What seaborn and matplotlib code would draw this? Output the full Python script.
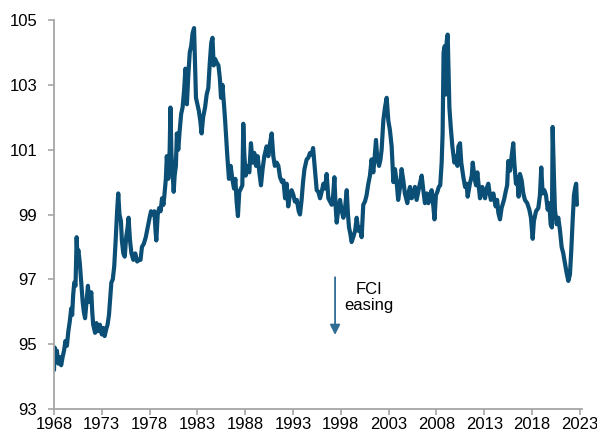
import matplotlib
matplotlib.use("Agg")
import matplotlib.pyplot as plt
import numpy as np
import pandas as pd
import seaborn as sns

# ===== data (year, FCI level) =====
years = [
    1968.00, 1968.06, 1968.15, 1968.30, 1968.45, 1968.60, 1968.75, 1968.90,
    1969.05, 1969.20, 1969.35, 1969.50, 1969.65, 1969.80, 1969.90,
    1970.00, 1970.12, 1970.25, 1970.37, 1970.45, 1970.55, 1970.70, 1970.85,
    1971.00, 1971.12, 1971.25, 1971.40, 1971.55, 1971.65, 1971.75, 1971.90,
    1972.00, 1972.10, 1972.30, 1972.45, 1972.60, 1972.80,
    1973.00, 1973.15, 1973.30, 1973.45, 1973.60, 1973.75, 1973.85,
    1974.00, 1974.15, 1974.30, 1974.45, 1974.60, 1974.72, 1974.85,
    1975.00, 1975.10, 1975.25, 1975.40, 1975.55, 1975.70, 1975.80, 1975.95,
    1976.10, 1976.30, 1976.50, 1976.70, 1976.90,
    1977.05, 1977.20, 1977.40, 1977.60, 1977.80,
    1978.00, 1978.15, 1978.35, 1978.50, 1978.62, 1978.70, 1978.85,
    1979.00, 1979.15, 1979.30, 1979.45, 1979.55, 1979.70, 1979.80, 1979.95,
    1980.10, 1980.18, 1980.28, 1980.40, 1980.52, 1980.62, 1980.75, 1980.85,
    1981.00, 1981.15, 1981.30, 1981.45, 1981.60, 1981.75, 1981.90,
    1982.05, 1982.20, 1982.35, 1982.50, 1982.65, 1982.75, 1982.85,
    1983.00, 1983.15, 1983.30, 1983.44, 1983.60, 1983.80, 1983.97,
    1984.14, 1984.30, 1984.45, 1984.58, 1984.70, 1984.85,
    1985.00, 1985.20, 1985.35, 1985.47, 1985.62, 1985.78, 1985.90,
    1986.00, 1986.13, 1986.30, 1986.48, 1986.65, 1986.83, 1986.97,
    1987.10, 1987.24, 1987.38, 1987.55, 1987.70, 1987.80, 1987.90,
    1988.05, 1988.22, 1988.43, 1988.60, 1988.78, 1988.95,
    1989.13, 1989.30, 1989.48, 1989.65, 1989.82,
    1990.00, 1990.24, 1990.42, 1990.60, 1990.77, 1990.94,
    1991.10, 1991.30, 1991.47, 1991.64, 1991.85,
    1992.00, 1992.17, 1992.34, 1992.50, 1992.70, 1992.86,
    1993.04, 1993.20, 1993.40, 1993.60, 1993.73, 1993.90,
    1994.05, 1994.20, 1994.43, 1994.60, 1994.78, 1994.95,
    1995.10, 1995.20, 1995.30, 1995.48, 1995.65, 1995.83,
    1996.00, 1996.18, 1996.35, 1996.52, 1996.70, 1996.88,
    1997.05, 1997.20, 1997.33, 1997.45, 1997.57, 1997.75, 1997.92,
    1998.10, 1998.27, 1998.45, 1998.62, 1998.75, 1998.86,
    1999.00, 1999.13, 1999.30, 1999.50, 1999.66, 1999.83,
    2000.00, 2000.18, 2000.35, 2000.53, 2000.70, 2000.88,
    2001.05, 2001.22, 2001.40, 2001.55, 2001.68, 2001.80,
    2002.00, 2002.15, 2002.27, 2002.45, 2002.62, 2002.80, 2002.97,
    2003.14, 2003.32, 2003.50, 2003.67, 2003.84,
    2004.00, 2004.20, 2004.36, 2004.54, 2004.70, 2004.96,
    2005.10, 2005.24, 2005.40, 2005.52, 2005.76, 2005.93,
    2006.20, 2006.46, 2006.63, 2006.80,
    2007.00, 2007.16, 2007.35, 2007.50, 2007.68, 2007.80, 2007.95,
    2008.10, 2008.25, 2008.40, 2008.55, 2008.65, 2008.75, 2008.88, 2008.97,
    2009.08, 2009.18, 2009.27, 2009.36, 2009.50, 2009.67, 2009.88,
    2010.05, 2010.20, 2010.30, 2010.47, 2010.60, 2010.82,
    2011.00, 2011.15, 2011.27, 2011.50, 2011.70, 2011.80,
    2012.00, 2012.15, 2012.28, 2012.45, 2012.56, 2012.80,
    2013.00, 2013.09, 2013.25, 2013.43, 2013.60, 2013.70, 2013.96,
    2014.10, 2014.20, 2014.35, 2014.48, 2014.65, 2014.82,
    2015.07, 2015.28, 2015.40, 2015.52, 2015.70, 2015.87,
    2016.04, 2016.15, 2016.32, 2016.46, 2016.60, 2016.74, 2016.92,
    2017.09, 2017.26, 2017.50, 2017.72, 2017.89,
    2018.07, 2018.20, 2018.42, 2018.66, 2018.83, 2018.97,
    2019.11, 2019.29, 2019.46, 2019.64, 2019.81, 2019.95,
    2020.08, 2020.16, 2020.30, 2020.40, 2020.58, 2020.75, 2020.93,
    2021.10, 2021.27, 2021.45, 2021.62, 2021.80, 2021.97,
    2022.11, 2022.25, 2022.39, 2022.53, 2022.62, 2022.70,
]

fci = [
    94.2, 94.9, 94.5, 94.8, 94.4, 94.6, 94.35, 94.6,
    94.8, 95.1, 94.95, 95.4, 95.7, 96.1, 95.9,
    96.5, 96.9, 96.8, 98.3, 97.7, 97.9, 97.5, 96.9,
    96.3, 96.0, 95.8, 96.3, 96.8, 96.4, 96.3, 96.6,
    96.0, 95.6, 95.35, 95.65, 95.4, 95.6,
    95.3, 95.5, 95.25, 95.45, 95.6, 95.9, 96.3,
    96.9, 97.0, 97.4, 98.2, 99.1, 99.65, 99.0,
    98.8, 98.2, 97.8, 97.7, 98.3, 98.6, 98.9, 98.2,
    97.8, 97.6, 97.8, 97.55, 97.6,
    97.6, 98.0, 98.1, 98.3, 98.6,
    98.9, 99.1, 99.0, 99.1, 98.5, 98.2, 99.0,
    99.2, 99.1, 99.5, 99.3, 99.6, 100.1, 100.8, 100.1,
    101.0, 102.3, 100.9, 100.3, 99.7, 100.2, 100.5, 101.5,
    101.0, 101.6, 102.1, 102.3, 102.8, 103.5, 102.4,
    103.3, 104.0, 104.2, 104.6, 104.75, 103.7, 102.6,
    102.4, 102.2, 101.9, 101.5, 102.0, 102.3, 102.7,
    102.9, 103.7, 104.3, 104.45, 103.6, 103.8,
    103.7, 103.6, 103.2, 102.6, 103.0, 102.4, 101.9,
    101.4, 100.8, 100.1, 100.5, 100.1, 99.8, 100.1,
    99.4, 98.95, 99.7, 99.8, 99.9, 101.8, 100.9,
    100.2, 100.5, 100.3, 101.2, 100.6, 100.9,
    100.5, 100.8, 100.3, 99.9, 100.4,
    100.8, 101.1, 100.8, 101.2, 101.5, 100.8,
    100.5, 100.6, 100.5, 100.15, 100.0,
    100.05, 99.5, 99.95, 99.25, 99.65, 99.75,
    99.6, 99.4, 99.45, 99.1, 99.0, 99.45,
    100.0, 100.4, 100.7, 100.75, 100.9, 100.85,
    101.05, 100.7, 100.35, 99.75, 99.7, 99.5,
    99.7, 99.95, 99.8, 100.25, 99.5, 99.4,
    99.3, 99.6, 100.15, 99.3, 98.75, 99.2, 99.45,
    99.1, 98.9, 99.2, 99.75, 99.0, 98.6,
    98.4, 98.15, 98.3, 98.5, 98.9, 98.5,
    98.6, 98.3, 99.3, 99.4, 99.6, 99.95,
    100.2, 100.7, 100.3, 100.8, 101.3, 100.8,
    100.5, 100.7, 101.0, 101.9, 102.3, 102.6, 101.9,
    101.6, 101.1, 100.0, 100.4, 100.0,
    99.45, 99.85, 100.4, 100.05, 99.65, 99.35,
    99.7, 99.85, 99.5, 99.55, 99.85, 99.45,
    99.85, 100.2, 99.75, 99.35,
    99.65, 99.35, 99.6, 99.75, 99.25, 98.85, 99.6,
    99.7, 99.85, 99.9, 100.6, 101.5, 104.0, 104.2, 102.7,
    104.35, 104.55, 103.4, 102.3, 101.7, 101.1, 100.6,
    100.8, 100.5, 101.1, 101.2, 100.6, 100.15,
    99.85, 99.95, 99.55, 99.95, 100.2, 100.6,
    100.1, 99.9, 100.3, 99.8, 99.5, 99.85,
    99.6, 99.5, 99.8, 99.95, 99.6, 99.45, 99.65,
    99.4, 99.25, 99.45, 99.05, 98.85, 99.2,
    99.45, 99.75, 99.9, 100.65, 100.35, 100.8,
    101.2, 100.6, 99.95, 100.15, 99.55, 100.25, 100.05,
    99.65, 99.45, 99.35, 99.15, 98.9,
    98.25, 98.8, 99.1, 99.2, 99.6, 100.45,
    99.65, 99.75, 99.6, 99.15, 99.35, 98.7,
    98.6, 101.7, 100.1, 99.15, 98.7, 98.9, 98.5,
    98.0, 97.8, 97.5, 97.2, 96.95, 97.15,
    97.9, 98.8, 99.6, 99.85, 99.95, 99.3,
]

x_ticks = list(range(1968, 2024, 5))
y_ticks = list(range(93, 106, 2))

LINE_COLOR = "#0b4f76"
ARROW_COLOR = "#2e6d94"
AXIS_COLOR = "#a6a6a6"

sns.set_theme(style="ticks")
plt.rcParams["font.family"] = ["Liberation Sans", "DejaVu Sans"]

df = pd.DataFrame({"year": years, "fci": fci})

fig = plt.figure(figsize=(5.97, 4.36), dpi=100)
ax = fig.add_axes([54 / 597, 1 - 409 / 436, 528 / 597, 389 / 436])

sns.lineplot(data=df, x="year", y="fci", sort=False, estimator=None,
             color=LINE_COLOR, linewidth=3.0, ax=ax)

ax.set_xlim(1968, 2023.23)
ax.set_ylim(93, 105)
ax.set_xticks(x_ticks)
ax.set_yticks(y_ticks)
ax.set_xlabel("")
ax.set_ylabel("")

for side in ["top", "right"]:
    ax.spines[side].set_visible(False)
for side in ["left", "bottom"]:
    ax.spines[side].set_color(AXIS_COLOR)
    ax.spines[side].set_linewidth(1.3)

ax.tick_params(axis="both", colors=AXIS_COLOR, labelcolor="black",
               labelsize=12, length=4, width=1.2, direction="out")
ax.tick_params(axis="y", pad=8)
ax.tick_params(axis="x", pad=2)

# FCI easing annotation
ax.annotate("", xy=(1997.4, 95.2), xytext=(1997.4, 97.15),
            arrowprops=dict(arrowstyle="-|>", color=ARROW_COLOR,
                            lw=1.3, mutation_scale=15))
ax.text(2000.9, 96.45, "FCI\neasing", ha="center", va="center",
        fontsize=12, linespacing=1.1, color="black")

fig.savefig("out.png", dpi=100)
plt.close(fig)
